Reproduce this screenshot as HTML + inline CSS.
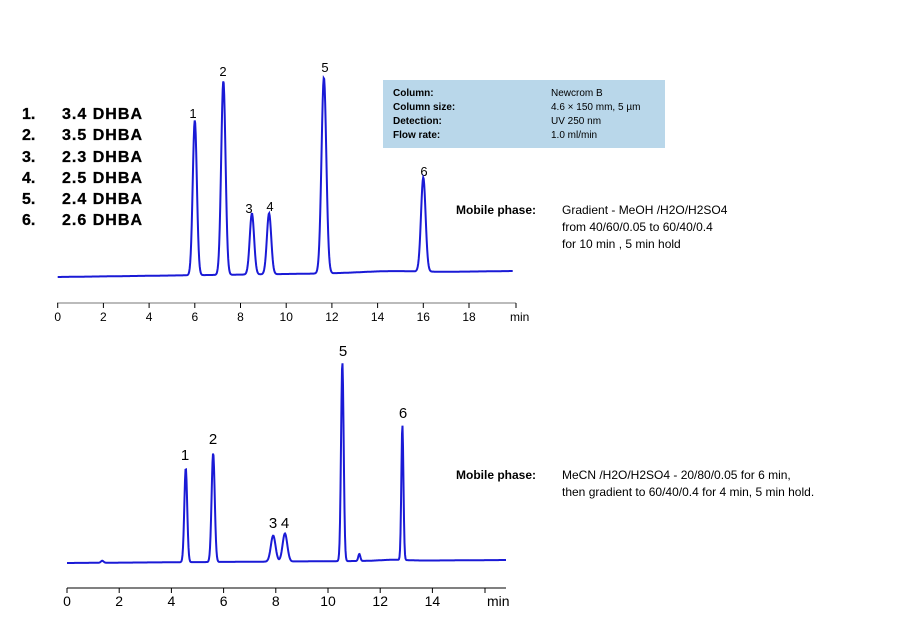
<!DOCTYPE html>
<html><head><meta charset="utf-8"><style>
body{margin:0;background:#fff;width:906px;height:619px;overflow:hidden;font-family:"Liberation Sans",sans-serif}
svg{position:absolute;left:0;top:0}
</style></head><body>
<svg width="906" height="619" viewBox="0 0 906 619" xmlns="http://www.w3.org/2000/svg" font-family="Liberation Sans, sans-serif">
<rect x="383" y="80" width="282" height="68" fill="#b9d7ea"/>
<g font-size="10" fill="#000">
<text x="393" y="96" font-weight="bold">Column:</text>
<text x="393" y="110" font-weight="bold">Column size:</text>
<text x="393" y="124" font-weight="bold">Detection:</text>
<text x="393" y="138" font-weight="bold">Flow rate:</text>
<text x="551" y="96">Newcrom B</text>
<text x="551" y="110">4.6 × 150 mm, 5 µm</text>
<text x="551" y="124">UV  250 nm</text>
<text x="551" y="138">1.0 ml/min</text>
</g>
<g font-size="16" font-weight="bold" fill="#000" stroke="#000" stroke-width="0.3">
<text x="22" y="119">1.</text><text x="62" y="119" textLength="80">3.4 DHBA</text>
<text x="22" y="140">2.</text><text x="62" y="140" textLength="80">3.5 DHBA</text>
<text x="22" y="162">3.</text><text x="62" y="162" textLength="80">2.3 DHBA</text>
<text x="22" y="183">4.</text><text x="62" y="183" textLength="80">2.5 DHBA</text>
<text x="22" y="204">5.</text><text x="62" y="204" textLength="80">2.4 DHBA</text>
<text x="22" y="225">6.</text><text x="62" y="225" textLength="80">2.6 DHBA</text>
</g>
<g font-size="12" fill="#000">
<text x="456" y="214" font-weight="bold">Mobile phase:</text>
<text x="562" y="214">Gradient - MeOH /H2O/H2SO4</text>
<text x="562" y="231">from 40/60/0.05  to  60/40/0.4</text>
<text x="562" y="248">for 10 min , 5 min hold</text>
<text x="456" y="479" font-weight="bold">Mobile phase:</text>
<text x="562" y="479">MeCN /H2O/H2SO4  - 20/80/0.05  for 6 min,</text>
<text x="562" y="496">then gradient to 60/40/0.4  for 4 min, 5 min hold.</text>
</g>
<g font-size="13" text-anchor="middle" fill="#000">
<text x="193" y="118">1</text><text x="223" y="76">2</text><text x="249" y="213">3</text><text x="270" y="211">4</text><text x="325" y="72">5</text><text x="424" y="176">6</text>
</g>
<g font-size="15" text-anchor="middle" fill="#000">
<text x="185" y="460">1</text><text x="213" y="444">2</text><text x="273" y="528">3</text><text x="285" y="528">4</text><text x="343" y="356">5</text><text x="403" y="418">6</text>
</g>
<g stroke="#000" stroke-width="1">
<line x1="57" y1="303" x2="516" y2="303" stroke="#777"/>
<line x1="67" y1="588" x2="506" y2="588"/>
</g>
<path id="c1" fill="none" stroke="#1a1ad6" stroke-width="2"/>
<path id="c2" fill="none" stroke="#1a1ad6" stroke-width="2"/>
</svg>
<script>
var ns="http://www.w3.org/2000/svg",svg=document.querySelector('svg');
function el(t,a,txt){var e=document.createElementNS(ns,t);for(var k in a)e.setAttribute(k,a[k]);if(txt)e.textContent=txt;svg.appendChild(e);}
for(var i=0;i<=18;i+=2){var x=57.7+i*22.85;el('line',{x1:x,y1:303,x2:x,y2:308,stroke:'#000'});el('text',{x:x,y:321,'font-size':12,'text-anchor':'middle'},String(i));}
el('line',{x1:516,y1:303,x2:516,y2:308,stroke:'#000'});
el('text',{x:510,y:321,'font-size':12},'min');
for(var i=0;i<=14;i+=2){var x=67+i*26.1;el('line',{x1:x,y1:588,x2:x,y2:593,stroke:'#000'});el('text',{x:x,y:606,'font-size':14,'text-anchor':'middle'},String(i));}
el('line',{x1:485,y1:588,x2:485,y2:593,stroke:'#000'});
el('text',{x:487,y:606,'font-size':14},'min');
function curve(x0,x1,ppm,b0,b1,peaks,id){
 var d='';for(var x=x0;x<=x1;x+=0.5){var y=b0+(b1-b0)*(x-x0)/(x1-x0);
 for(var p of peaks){var c=x0+p[0]*ppm;var s=p[2]*ppm;y-=p[1]*Math.exp(-(x-c)*(x-c)/(2*s*s));}
 d+=(d?'L':'M')+x.toFixed(1)+' '+y.toFixed(1);}
 document.getElementById(id).setAttribute('d',d);}
curve(57.7,513,22.85,277,271,[[6,155,0.09],[7.25,194,0.095],[8.5,61,0.095],[9.25,61,0.095],[11.65,196,0.105],[16,94,0.1],[14.5,1.5,1.2]],'c1');
curve(67,506,26.1,563,560,[[1.35,2,0.05],[4.55,94,0.055],[5.6,109,0.06],[7.9,26,0.09],[8.35,28,0.09],[10.55,199,0.05],[11.2,7,0.04],[12.85,135,0.04],[12.5,1,0.5]],'c2');
</script>
</body></html>
